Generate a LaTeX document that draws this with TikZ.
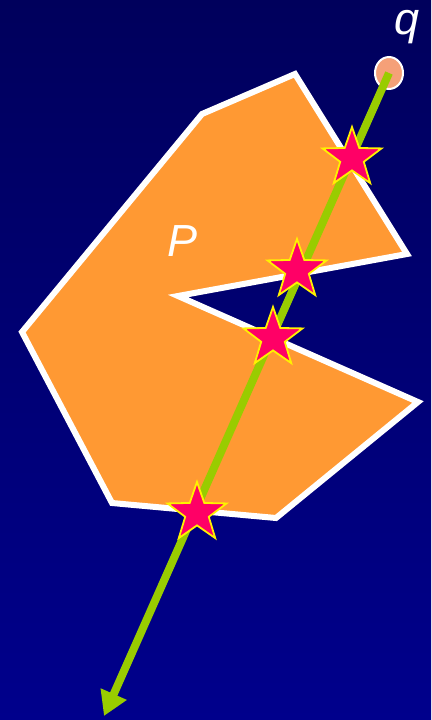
\documentclass[tikz,border=0pt]{standalone}
\usepackage{fontspec}
\setmainfont{Liberation Sans}
\usetikzlibrary{shapes.geometric,arrows.meta}
\definecolor{bgtop}{RGB}{0,0,92}
\definecolor{bgbot}{RGB}{0,0,140}
\definecolor{polyorange}{RGB}{255,153,51}
\definecolor{raygreen}{RGB}{153,204,0}
\definecolor{starred}{RGB}{255,0,102}
\definecolor{qsalmon}{RGB}{245,160,120}
\tikzset{
  polystyle/.style={fill=polyorange,draw=white,line width=6pt,line join=miter},
  raystyle/.style={draw=raygreen,line width=8pt,-{Triangle[length=24pt,width=27pt]}},
  hitstar/.style={star,star points=5,star point ratio=2.5,minimum size=62pt,inner sep=0pt,fill=starred,draw=yellow,line width=1.8pt},
  qdot/.style={ellipse,minimum width=28pt,minimum height=32pt,inner sep=0pt,fill=qsalmon,draw=white,line width=2pt},
  lbl/.style={text=white,font=\fontsize{45}{45}\selectfont\itshape,inner sep=0pt,anchor=base}
}
\begin{document}
\begin{tikzpicture}[x=1pt,y=-1pt]
\shade[top color=bgtop,bottom color=bgbot] (0,0) rectangle (431,720);
\useasboundingbox (0,0) rectangle (431,720);
\path[polystyle] (295,74) -- (407,254) -- (178,296) -- (418,402) -- (276,518) -- (112,503) -- (22,332) -- (202,114) -- cycle;
\node[qdot] (q) at (389,73) {};
\coordinate (tip) at (104,716);
\draw[raystyle] (q.center) -- (tip);
\node[hitstar] (s1) at (352,158) {};
\node[hitstar] (s2) at (297,270) {};
\node[hitstar] (s3) at (273,338) {};
\node[hitstar] (s4) at (197,513) {};
\node[lbl] (ql) at (407,34) {q};
\node[lbl] (pl) at (183,256) {P};
\end{tikzpicture}
\end{document}
